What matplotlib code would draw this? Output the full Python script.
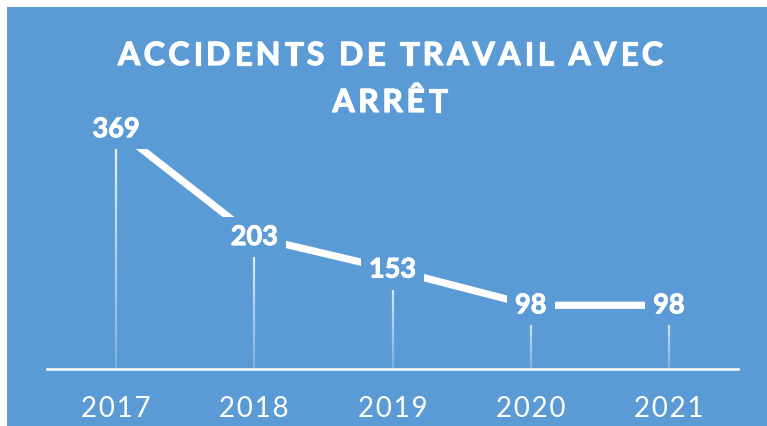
import numpy as np
import matplotlib.pyplot as plt
import matplotlib.patheffects as pe
from matplotlib.collections import LineCollection
from matplotlib.patches import Rectangle

# Data
years = ["2017", "2018", "2019", "2020", "2021"]
accidents = [369, 203, 153, 98, 98]
title_lines = ["ACCIDENTS DE TRAVAIL AVEC", "ARRÊT"]

BLUE = "#5B9BD5"
W, H = 767, 427

plt.rcParams['font.family'] = ['Lato', 'DejaVu Sans']

fig = plt.figure(figsize=(W / 100, H / 100), dpi=100, facecolor="white")
# blue chart area (small white margin top/left as in the screenshot)
fig.patches.append(Rectangle((7 / W, 0), 1 - 7 / W, 1 - 8 / H,
                             transform=fig.transFigure, facecolor=BLUE,
                             edgecolor="none", zorder=-5))

ax = fig.add_axes([47 / W, (H - 370) / H, 691 / W, 260 / H])
ax.set_facecolor("none")
x = np.arange(len(years))
ax.set_xlim(-0.5, len(years) - 0.5)
ax.set_ylim(0, 400)

# drop lines with a fading gradient
segs, cols = [], []
for xi, v in zip(x, accidents):
    ys = np.linspace(0, v, 40)
    for a, b in zip(ys[:-1], ys[1:]):
        segs.append([(xi, a), (xi, b)])
        frac = (a + b) / 2 / v
        cols.append((1, 1, 1, 0.2 + 0.7 * frac))
ax.add_collection(LineCollection(segs, colors=cols, linewidths=1.6, zorder=2))

# main line
ax.plot(x, accidents, color="white", lw=5.2, solid_capstyle="butt", zorder=3)

bold = [pe.withStroke(linewidth=0.7, foreground="white")]

# value labels with a blue box hiding the line behind
for xi, v in zip(x, accidents):
    ax.text(xi, v, str(v), ha="center", va="center", color="white",
            fontsize=19.5, fontweight="bold", zorder=5, path_effects=bold,
            bbox=dict(boxstyle="square,pad=0.3", facecolor=BLUE, edgecolor="none"))

for s in ["top", "right", "left"]:
    ax.spines[s].set_visible(False)
ax.spines["bottom"].set_color("white")
ax.spines["bottom"].set_linewidth(1.8)
ax.set_yticks([])
ax.set_xticks(x)
ax.set_xticklabels([" ".join(y).replace(" ", "\u200a") for y in years],
                   color="white", fontsize=20)
ax.tick_params(axis="x", length=0, pad=19)


# letter-spaced title, drawn char by char
def char_widths(s, size):
    r = fig.canvas.get_renderer()
    widths = []
    for ch in s:
        if ch == " ":
            t1 = fig.text(0, 0, "I I", fontsize=size, fontweight="bold")
            t2 = fig.text(0, 0, "II", fontsize=size, fontweight="bold")
            w = t1.get_window_extent(r).width - t2.get_window_extent(r).width
            t1.remove(); t2.remove()
        else:
            t = fig.text(0, 0, ch, fontsize=size, fontweight="bold")
            w = t.get_window_extent(r).width
            t.remove()
        widths.append(w)
    return widths


size_t = 23
gap = (545 - sum(char_widths(title_lines[0], size_t))) / (len(title_lines[0]) - 1)
for line, cx, base in [(title_lines[0], 390.5, 66), (title_lines[1], 390, 113)]:
    widths = char_widths(line, size_t)
    total = sum(widths) + gap * (len(line) - 1)
    px = cx - total / 2
    for ch, w in zip(line, widths):
        fig.text(px / W, 1 - base / H, ch, fontsize=size_t, fontweight="bold",
                 color="white", ha="left", va="baseline",
                 path_effects=[pe.withStroke(linewidth=0.9, foreground="white")])
        px += w + gap

fig.savefig("out.png", dpi=100, facecolor="white")
